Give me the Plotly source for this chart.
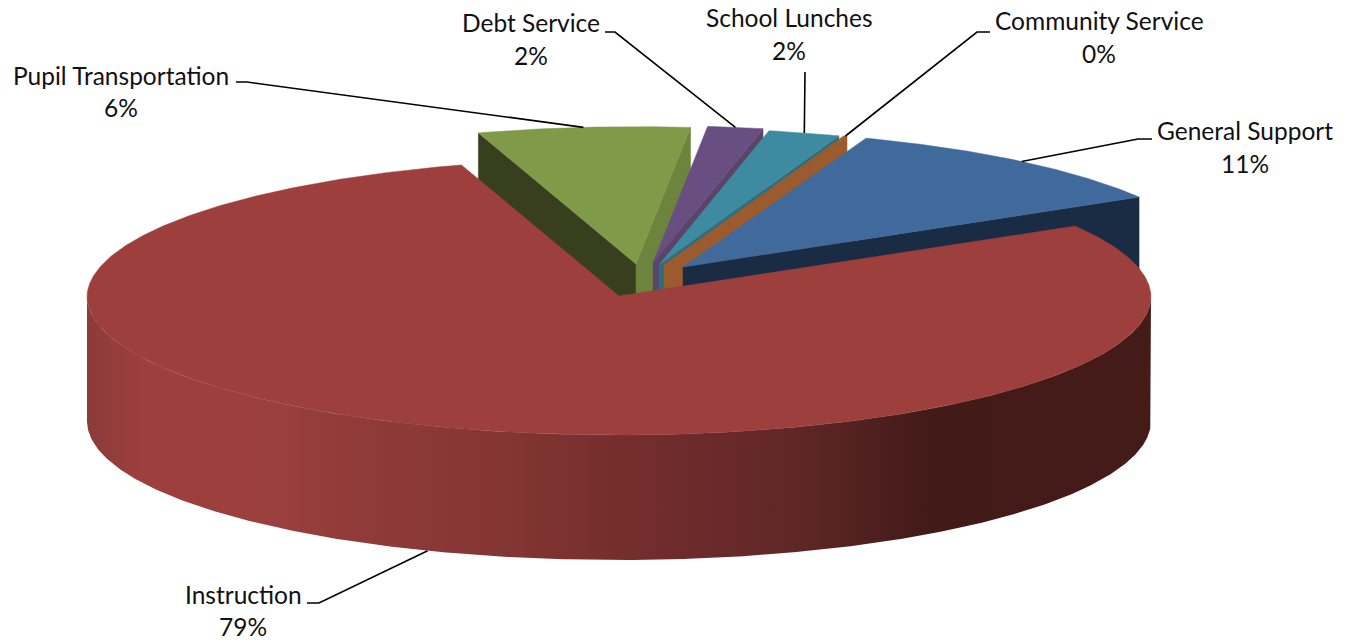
import numpy as np
import plotly.graph_objects as go

# ---- data (clockwise from the first slice) ----
categories = ["Instruction", "Pupil Transportation", "Debt Service",
              "School Lunches", "Community Service", "General Support"]
shares = [78.6, 6.5, 1.7, 2.2, 0.1, 10.9]
pct_labels = ["79%", "6%", "2%", "2%", "0%", "11%"]

# ---- styles ----
top_colors = ["#9c3f3d", "#7f9a48", "#694f81", "#3d8aa1", "#9a5c2e", "#406a9c"]
right_wall = [None, "#6d843f", "#5a4569", "#2e6c80", "#9a5c2e", "#1a2c44"]
left_wall = [None, "#373f1e", None, None, None, None]
wall_stops = [[0.0, "#8c3b39"], [0.05, "#9c3f3d"], [0.163, "#9c403e"], [0.228, "#933c3a"],
              [0.294, "#8d3938"], [0.388, "#843634"], [0.50, "#752e2c"], [0.576, "#6c2a2b"],
              [0.67, "#5e2725"], [0.745, "#4d1f1e"], [0.79, "#421a18"], [1.0, "#451b18"]]

# ---- pie geometry (pixels of the 1355x642 canvas) ----
CX, CY, RX, RY, DEPTH = 619.0, 296.0, 532.0, 139.0, 125.0
START = 30.4
PERSPECTIVE = 0.012
apex = {0: (CX, CY), 1: (636, 264), 2: (653, 263), 3: (659, 265), 4: (664, 265), 5: (683, 267)}

# leader elbows and label anchors, per category
label_xy = {0: (243, 594, 626), 1: (121, 75, 107), 2: (531, 22, 55),
            3: (789, 17, 50), 4: (1099, 20, 53), 5: (1245, 130, 163)}
elbows = {0: [(319, 603), (307, 603)], 1: [(247, 82), (236, 82)], 2: [(615, 32), (605, 32)],
          3: [(805, 72)], 4: [(977, 32), (990, 32)], 5: [(1138, 139), (1152, 139)]}

angles = [START]
for s in shares:
    angles.append(angles[-1] - s * 3.6)

fig = go.Figure()


def rim(i, a):
    ax, ay = apex[i]
    t = np.radians(a)
    k = 1 - PERSPECTIVE * np.clip(np.sin(t), 0, None)
    return ax + k * RX * np.cos(t), ay - k * RY * np.sin(t)


def poly(xs, ys, color):
    fig.add_trace(go.Scatter(x=list(xs), y=list(ys), mode="lines", fill="toself", fillcolor=color,
                             line=dict(width=0.5, color=color), hoverinfo="skip", showlegend=False))


def wall(i, a, color):
    ax, ay = apex[i]
    rx, ry = rim(i, a)
    poly([ax, rx, rx, ax, ax], [ay, ry, ry + DEPTH, ay + DEPTH, ay], color)


def top(i):
    ax, ay = apex[i]
    a = np.linspace(angles[i], angles[i + 1], max(3, int(abs(angles[i] - angles[i + 1]) * 2)))
    rx, ry = rim(i, a)
    poly(np.r_[ax, rx, ax], np.r_[ay, ry, ay], top_colors[i])


# back slices, left to right, then the big one in front
for i in [1, 2, 3, 4, 5]:
    if left_wall[i]:
        wall(i, angles[i], left_wall[i])
    wall(i, angles[i + 1], right_wall[i])
    top(i)

# outer wall of the front slice
arc = np.linspace(180, 360, 361)
wx, wy = rim(0, arc)
fig.add_trace(go.Scatter(x=np.r_[wx, wx[::-1], wx[0]], y=np.r_[wy, wy[::-1] + DEPTH, wy[0]], mode="lines",
                         fill="toself", line=dict(width=0), hoverinfo="skip", showlegend=False,
                         fillgradient=dict(type="horizontal", colorscale=wall_stops)))
top(0)

# leader lines
for i in range(len(categories)):
    mid = (angles[i] + angles[i + 1]) / 2
    x0, y0 = rim(i, mid)
    if i == 0:
        y0 += DEPTH
    pts = [(x0, y0)] + elbows[i]
    fig.add_trace(go.Scatter(x=[p[0] for p in pts], y=[p[1] for p in pts], mode="lines",
                             line=dict(color="#000000", width=1.6), hoverinfo="skip", showlegend=False))
    lx, ly1, ly2 = label_xy[i]
    for txt, yy in ((categories[i], ly1), (pct_labels[i], ly2)):
        fig.add_annotation(x=lx, y=yy, text=txt, showarrow=False, xanchor="center", yanchor="middle",
                           font=dict(family="Lato", size=24.5, color="#111111"))

fig.update_layout(width=1355, height=642, margin=dict(l=0, r=0, t=0, b=0),
                  paper_bgcolor="white", plot_bgcolor="white", showlegend=False,
                  xaxis=dict(range=[0, 1355], visible=False, fixedrange=True),
                  yaxis=dict(range=[642, 0], visible=False, fixedrange=True))
fig.write_html("out.html", config={"displayModeBar": False},
               post_script="document.body.style.margin='0';")
